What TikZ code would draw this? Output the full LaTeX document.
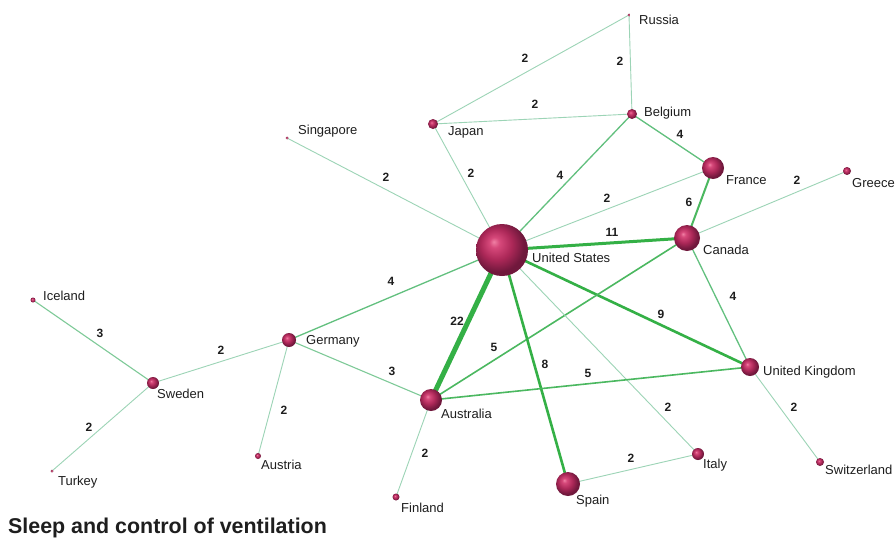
\documentclass[tikz,border=0pt]{standalone}
\usepackage{fontspec}
\setmainfont{Liberation Sans}
\usetikzlibrary{backgrounds}
\definecolor{wa}{HTML}{9CD4B6}
\definecolor{wb}{HTML}{7ECA98}
\definecolor{wc}{HTML}{62C07E}
\definecolor{wd}{HTML}{4BB860}
\definecolor{we}{HTML}{34B046}
\definecolor{txt}{HTML}{1E1E1E}
\pgfdeclareradialshading{mysphere}{\pgfpoint{-8bp}{8bp}}{%
  color(0bp)=(rgb,255:red,240;green,128;blue,164);
  color(5bp)=(rgb,255:red,214;green,72;blue,122);
  color(15bp)=(rgb,255:red,172;green,40;blue,88);
  color(25bp)=(rgb,255:red,112;green,24;blue,60);
  color(50bp)=(rgb,255:red,112;green,24;blue,60)}
\tikzset{
  ball/.style={circle,inner sep=0pt,minimum size=#1,shading=mysphere},
  lab/.style={anchor=west,inner sep=0pt,font=\fontsize{13}{13}\selectfont,text=txt},
  elab/.style={inner sep=0pt,font=\bfseries\fontsize{12}{12}\selectfont,text=txt},
  wtwo/.style={draw=wa,line width=0.9pt},
  wthree/.style={draw=wb,line width=1.1pt},
  wfour/.style={draw=wc,line width=1.3pt},
  wfive/.style={draw=wd,line width=1.6pt},
  wsix/.style={draw=wd,line width=2pt},
  weight/.style={draw=we,line width=2.6pt},
  welev/.style={draw=we,line width=3pt},
  wbig/.style={draw=we,line width=5pt},
}
\begin{document}
\begin{tikzpicture}[x=1pt,y=-1pt]
\useasboundingbox (0,0) rectangle (896,541);
% nodes
\node[ball=52pt] (us) at (502,250) {};
\node[ball=3pt] (russia) at (629,15) {};
\node[ball=10pt] (belgium) at (632,114) {};
\node[ball=10pt] (japan) at (433,124) {};
\node[ball=3pt] (singapore) at (287,138) {};
\node[ball=22pt] (france) at (713,168) {};
\node[ball=8pt] (greece) at (847,171) {};
\node[ball=26pt] (canada) at (687,238) {};
\node[ball=5pt] (iceland) at (33,300) {};
\node[ball=14pt] (germany) at (289,340) {};
\node[ball=12pt] (sweden) at (153,383) {};
\node[ball=18pt] (uk) at (750,367) {};
\node[ball=22pt] (australia) at (431,400) {};
\node[ball=6pt] (austria) at (258,456) {};
\node[ball=3pt] (turkey) at (52,471) {};
\node[ball=7pt] (finland) at (396,497) {};
\node[ball=24pt] (spain) at (568,484) {};
\node[ball=12pt] (italy) at (698,454) {};
\node[ball=8pt] (switzerland) at (820,462) {};
% node labels
\node[lab] (lrussia) at (639,20) {Russia};
\node[lab] (lbelgium) at (644,113) {Belgium};
\node[lab] (ljapan) at (448,132) {Japan};
\node[lab] (lsingapore) at (298,131) {Singapore};
\node[lab] (lfrance) at (726,180) {France};
\node[lab] (lgreece) at (852,183) {Greece};
\node[lab] (lcanada) at (703,250) {Canada};
\node[lab] (lus) at (532,258) {United States};
\node[lab] (liceland) at (43,296) {Iceland};
\node[lab] (lgermany) at (306,341) {Germany};
\node[lab] (lsweden) at (157,394) {Sweden};
\node[lab] (luk) at (763,372) {United Kingdom};
\node[lab] (laustralia) at (441,414) {Australia};
\node[lab] (laustria) at (261,465) {Austria};
\node[lab] (lturkey) at (58,482) {Turkey};
\node[lab] (lfinland) at (401,508) {Finland};
\node[lab] (lspain) at (576,501) {Spain};
\node[lab] (litaly) at (703,465) {Italy};
\node[lab] (lswitzerland) at (825,470) {Switzerland};
% edge labels
\node[elab] (e1) at (525,58) {2};
\node[elab] (e2) at (620,61) {2};
\node[elab] (e3) at (535,104) {2};
\node[elab] (e4) at (471,173) {2};
\node[elab] (e5) at (560,175) {4};
\node[elab] (e6) at (680,134) {4};
\node[elab] (e7) at (386,177) {2};
\node[elab] (e8) at (607,198) {2};
\node[elab] (e9) at (689,202) {6};
\node[elab] (e10) at (797,180) {2};
\node[elab] (e11) at (612,232) {11};
\node[elab] (e12) at (733,296) {4};
\node[elab] (e13) at (661,314) {9};
\node[elab] (e14) at (494,347) {5};
\node[elab] (e15) at (457,321) {22};
\node[elab] (e16) at (545,364) {8};
\node[elab] (e17) at (668,407) {2};
\node[elab] (e18) at (588,373) {5};
\node[elab] (e19) at (794,407) {2};
\node[elab] (e20) at (391,281) {4};
\node[elab] (e21) at (392,371) {3};
\node[elab] (e22) at (221,350) {2};
\node[elab] (e23) at (284,410) {2};
\node[elab] (e24) at (100,333) {3};
\node[elab] (e25) at (89,427) {2};
\node[elab] (e26) at (425,453) {2};
\node[elab] (e27) at (631,458) {2};
% title
\node[anchor=base west,inner sep=0pt,font=\bfseries\fontsize{21.4}{21.4}\selectfont,text=txt] (title) at (8,533) {Sleep and control of ventilation};
% edges
\begin{scope}[on background layer]
\fill[white] (0,0) rectangle (896,541);
\draw[wtwo] (russia.center) -- (japan.center);
\draw[wtwo] (russia.center) -- (belgium.center);
\draw[wtwo] (japan.center) -- (belgium.center);
\draw[wtwo] (japan.center) -- (us.center);
\draw[wfour] (belgium.center) -- (us.center);
\draw[wfour] (belgium.center) -- (france.center);
\draw[wtwo] (singapore.center) -- (us.center);
\draw[wtwo] (france.center) -- (us.center);
\draw[wsix] (france.center) -- (canada.center);
\draw[wtwo] (greece.center) -- (canada.center);
\draw[welev] (us.center) -- (canada.center);
\draw[wfour] (canada.center) -- (uk.center);
\draw[weight] (us.center) -- (uk.center);
\draw[wfive] (canada.center) -- (australia.center);
\draw[wbig] (us.center) -- (australia.center);
\draw[weight] (us.center) -- (spain.center);
\draw[wtwo] (us.center) -- (italy.center);
\draw[wfive] (australia.center) -- (uk.center);
\draw[wtwo] (uk.center) -- (switzerland.center);
\draw[wfour] (germany.center) -- (us.center);
\draw[wthree] (germany.center) -- (australia.center);
\draw[wtwo] (germany.center) -- (sweden.center);
\draw[wtwo] (germany.center) -- (austria.center);
\draw[wthree] (sweden.center) -- (iceland.center);
\draw[wtwo] (sweden.center) -- (turkey.center);
\draw[wtwo] (australia.center) -- (finland.center);
\draw[wtwo] (spain.center) -- (italy.center);
\end{scope}
\end{tikzpicture}
\end{document}
